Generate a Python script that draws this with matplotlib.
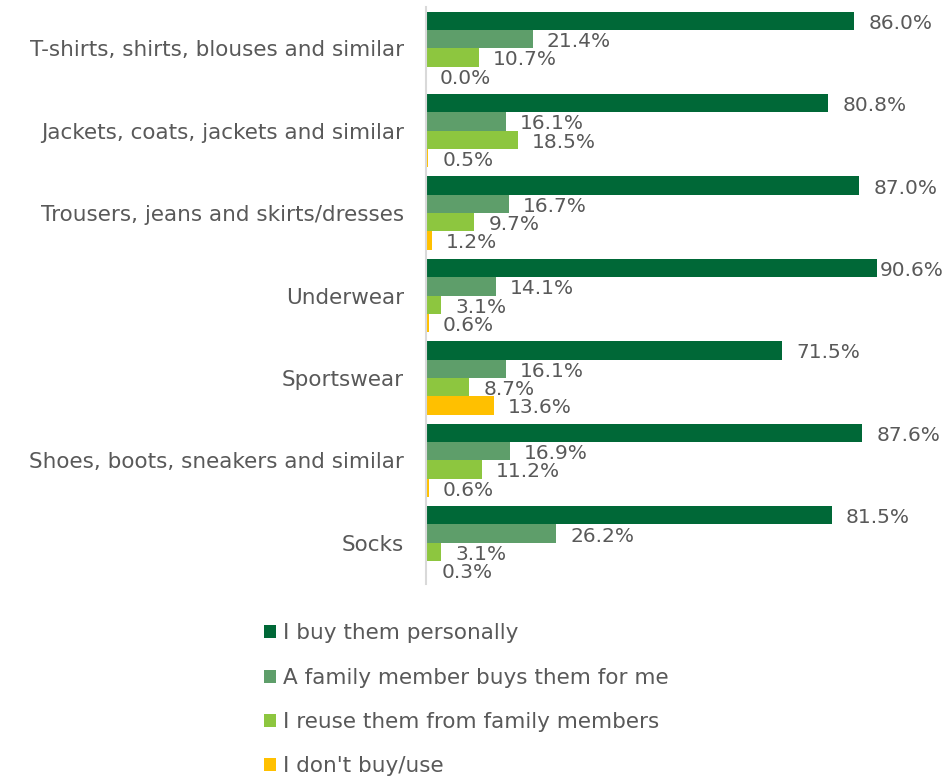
import matplotlib
matplotlib.use("Agg")
import matplotlib.pyplot as plt
import numpy as np
from matplotlib.patches import Patch

plt.rcParams["font.family"] = ["DejaVu Sans"]

categories = [
    "T-shirts, shirts, blouses and similar",
    "Jackets, coats, jackets and similar",
    "Trousers, jeans and skirts/dresses",
    "Underwear",
    "Sportswear",
    "Shoes, boots, sneakers and similar",
    "Socks",
]
buy_personally = [86.0, 80.8, 87.0, 90.6, 71.5, 87.6, 81.5]
family_buys = [21.4, 16.1, 16.7, 14.1, 16.1, 16.9, 26.2]
reuse_family = [10.7, 18.5, 9.7, 3.1, 8.7, 11.2, 3.1]
dont_buy = [0.0, 0.5, 1.2, 0.6, 13.6, 0.6, 0.3]

series_names = [
    "I buy them personally",
    "A family member buys them for me",
    "I reuse them from family members",
    "I don't buy/use",
]
colors = ["#006837", "#5E9E6A", "#8DC63F", "#FFC000"]
text_gray = "#595959"

fig = plt.figure(figsize=(9.5, 7.78), dpi=100)
ax = fig.add_axes([426 / 950, 1 - 584 / 778, 498 / 950, 577 / 778])

series = [buy_personally, family_buys, reuse_family, dont_buy]
n = len(categories)
bar_h = 0.222
y = np.arange(n)
for k, (vals, col) in enumerate(zip(series, colors)):
    pos = y - 0.444 + bar_h * (k + 0.5)
    ax.barh(pos, vals, height=bar_h, color=col, edgecolor="none")
    for p, v in zip(pos, vals):
        # labels near the right edge sit tight against their bar
        lx = min(v + 2.8, 91.1)
        ax.text(lx, p + 0.03, f"{v:.1f}%", va="center", ha="left",
                fontsize=14.5, color=text_gray, clip_on=False)

ax.set_xlim(0, 100)
ax.set_ylim(n - 0.5, -0.5)
ax.set_yticks(y)
ax.set_yticklabels(categories, fontsize=15.5, color=text_gray)
ax.tick_params(axis="y", length=0, pad=16)
ax.set_xticks([])
for s in ["top", "right", "bottom"]:
    ax.spines[s].set_visible(False)
ax.spines["left"].set_color("#D9D9D9")
ax.spines["left"].set_linewidth(1.5)

handles = [Patch(facecolor=c, edgecolor="none") for c in colors]
fig.legend(handles, series_names, loc="upper left",
           bbox_to_anchor=(245 / 950, 1 - 604 / 778), frameon=False,
           fontsize=15.5, labelcolor=text_gray, handlelength=0.56,
           handleheight=0.56, handletextpad=0.3, labelspacing=1.13)

fig.savefig("out.png", dpi=100)
